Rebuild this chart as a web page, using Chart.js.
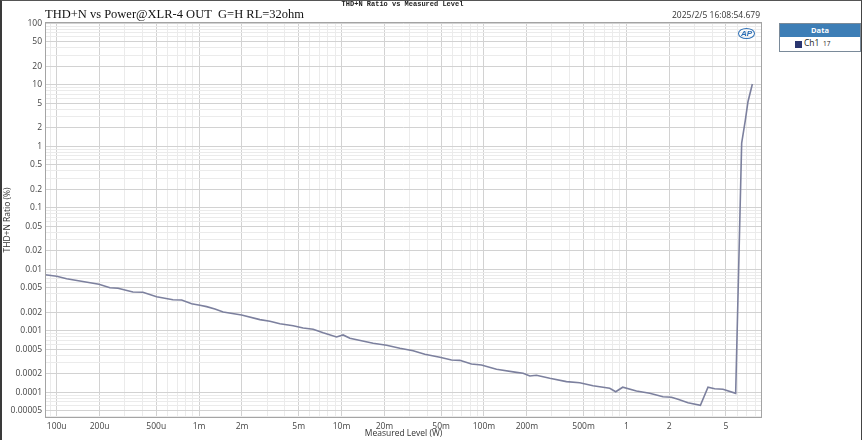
<!DOCTYPE html>
<html>
<head>
<meta charset="utf-8">
<script src="https://cdn.jsdelivr.net/npm/chart.js@4.4.1/dist/chart.umd.min.js"></script>
<style>
    html, body { margin: 0; padding: 0; background: #fff; }
    #wrap { position: relative; width: 862px; height: 440px; overflow: hidden; font-family: "Open Sans", sans-serif; }
    #frame { position: absolute; left: 0; top: 0; width: 859px; height: 439px; border-left: 2px solid #3a3a3a; border-top: 1px solid #555; border-right: 1px solid #444; pointer-events: none; }
    #topTitle { position: absolute; left: 0; width: 805px; top: 0; text-align: center; font: bold 7px "Liberation Mono", monospace; color: #222; }
    #subTitle { position: absolute; left: 45px; top: 7px; font: 12.5px "Liberation Serif", serif; color: #111; }
    #stamp { position: absolute; right: 102px; top: 9px; font-size: 8.5px; color: #333; }
    #logo { position: absolute; left: 738px; top: 28px; font: italic bold 8px "Liberation Sans", sans-serif; color: #2d6fb5; border: 1.5px solid #2d6fb5; border-radius: 50%; padding: 0 2px; line-height: 9px; }
    #legend { position: absolute; left: 779px; top: 23px; width: 80px; height: 27px; border: 1px solid #7a8a99; background: #fff; }
    #legend .head { height: 13px; background: #3d7eb6; color: #fff; font-size: 7.5px; font-weight: bold; text-align: center; line-height: 13px; }
    #legend .row { position: relative; height: 14px; font-size: 8.5px; color: #222; }
    #legend .sw { position: absolute; left: 15px; top: 4px; width: 7px; height: 7px; background: #2b3670; }
    #legend .nm { position: absolute; left: 24px; top: 0px; }
    #legend .ix { position: absolute; left: 43px; top: 2px; font-size: 6.5px; }
</style>
</head>
<body>
<div id="wrap">
    <canvas id="chart" width="862" height="440"></canvas>
    <div id="topTitle">THD+N Ratio vs Measured Level</div>
    <div id="subTitle">THD+N vs Power@XLR-4 OUT&nbsp;&nbsp;G=H RL=32ohm</div>
    <div id="stamp">2025/2/5 16:08:54.679</div>
    <div id="logo">AP</div>
    <div id="legend">
        <div class="head">Data</div>
        <div class="row"><span class="sw"></span><span class="nm">Ch1</span><span class="ix">17</span></div>
    </div>
    <div id="frame"></div>
</div>
<script>
// Measured level (W)
const power = [
    0.0000828, 0.0001, 0.0001175, 0.0001981, 0.0002366, 0.0002693, 0.0003431, 0.0004033,
    0.000503, 0.000655, 0.000754, 0.000886, 0.001013, 0.001129, 0.001291, 0.001476,
    0.001987, 0.002672, 0.00314, 0.00369, 0.004575, 0.005376, 0.00632, 0.00743,
    0.00922, 0.01026, 0.01144, 0.01667, 0.0207, 0.02566, 0.0318, 0.0384,
    0.049, 0.05915, 0.06765, 0.0817, 0.096, 0.1224, 0.1691, 0.1882,
    0.2097, 0.2336, 0.2895, 0.3793, 0.47, 0.583, 0.7636, 0.841,
    0.942, 1.176, 1.457, 1.806, 2.07, 2.302, 2.706, 3.306,
    3.738, 4.165, 4.764, 5.848, 6.443, 6.841, 7.134, 7.66
];
// THD+N ratio (%)
const thdn = [
    0.00817, 0.00769, 0.00703, 0.0057, 0.00502, 0.00491, 0.00428, 0.00423,
    0.00358, 0.0032, 0.00317, 0.00276, 0.0026, 0.00247, 0.00226, 0.00202,
    0.00181, 0.00152, 0.00143, 0.0013, 0.00121, 0.00111, 0.00106, 0.000931,
    0.000793, 0.000855, 0.000755, 0.000626, 0.000581, 0.000519, 0.000475, 0.000415,
    0.000371, 0.000335, 0.000331, 0.000289, 0.000278, 0.000237, 0.000211, 0.000204,
    0.000184, 0.000189, 0.000169, 0.000149, 0.000143, 0.000128, 0.000116, 0.000102,
    0.000121, 0.000105, 0.0000963, 0.0000848, 0.0000829, 0.0000769, 0.0000678, 0.0000615,
    0.000121, 0.000114, 0.000112, 0.0000963, 1.13, 2.68, 5.31, 10.3
];

const xTickValues = [0.0001, 0.0002, 0.0005, 0.001, 0.002, 0.005, 0.01, 0.02, 0.05, 0.1, 0.2, 0.5, 1, 2, 5];
const xTickLabels = ['100u', '200u', '500u', '1m', '2m', '5m', '10m', '20m', '50m', '100m', '200m', '500m', '1', '2', '5'];
const yTickValues = [0.00005, 0.0001, 0.0002, 0.0005, 0.001, 0.002, 0.005, 0.01, 0.02, 0.05, 0.1, 0.2, 0.5, 1, 2, 5, 10, 20, 50, 100];
const yTickLabels = ['0.00005', '0.0001', '0.0002', '0.0005', '0.001', '0.002', '0.005', '0.01', '0.02', '0.05', '0.1', '0.2', '0.5', '1', '2', '5', '10', '20', '50', '100'];

const xMin = 0.0000828, xMax = 8.95;
const yMin = 0.0000382, yMax = 105;

// all 1..9 steps of each decade inside the range
function logSteps(min, max) {
    const out = [];
    for (let e = Math.floor(Math.log10(min)); e <= Math.ceil(Math.log10(max)); e++) {
        for (let m = 1; m <= 9; m++) {
            const v = parseFloat((m * Math.pow(10, e)).toPrecision(3));
            if (v >= min * 1.0001 && v <= max * 0.9999) out.push(v);
        }
    }
    return out;
}

function labelFor(values, labels, v) {
    const i = values.findIndex(t => Math.abs(t - v) / t < 1e-6);
    return i >= 0 ? labels[i] : '';
}

function isMajor(v) {
    const m = Math.round(v / Math.pow(10, Math.floor(Math.log10(v) + 1e-9)));
    return m === 1 || m === 2 || m === 5;
}

const tickFont = { family: '"Open Sans", sans-serif', size: 8.5 };
const titleFont = { family: '"Open Sans", sans-serif', size: 8.5 };

const frameBox = {
    id: 'frameBox',
    afterDraw(chart) {
        const a = chart.chartArea, ctx = chart.ctx;
        ctx.save();
        ctx.strokeStyle = '#a4a4a4';
        ctx.lineWidth = 1;
        ctx.strokeRect(a.left + 0.5, a.top + 0.5, a.right - a.left - 1, a.bottom - a.top - 1);
        ctx.restore();
    }
};

new Chart(document.getElementById('chart'), {
    type: 'line',
    data: {
        datasets: [{
            label: 'Ch1',
            data: power.map((p, i) => ({ x: p, y: thdn[i] })),
            borderColor: '#7c809e',
            borderWidth: 1.6,
            pointRadius: 0,
            tension: 0,
            fill: false
        }]
    },
    options: {
        responsive: false,
        animation: false,
        layout: { padding: { top: 22, right: 100, left: 0, bottom: 0 } },
        plugins: { legend: { display: false }, tooltip: { enabled: false } },
        scales: {
            x: {
                type: 'logarithmic',
                min: xMin,
                max: xMax,
                afterBuildTicks: s => { s.ticks = logSteps(xMin, xMax).map(v => ({ value: v })); },
                afterFit: s => { s.height = 22; },
                ticks: {
                    autoSkip: false, maxRotation: 0, padding: 3,
                    color: '#444', font: tickFont,
                    callback: v => labelFor(xTickValues, xTickLabels, v)
                },
                grid: {
                    drawTicks: false,
                    color: c => (c.tick && isMajor(c.tick.value)) ? '#d2d2d2' : '#ebebeb'
                },
                border: { display: false },
                title: { display: true, text: 'Measured Level (W)', color: '#333', font: titleFont, padding: { top: 0, bottom: 1 } }
            },
            y: {
                type: 'logarithmic',
                min: yMin,
                max: yMax,
                afterBuildTicks: s => { s.ticks = logSteps(yMin, yMax).map(v => ({ value: v })); },
                afterFit: s => { s.width = 45; },
                ticks: {
                    autoSkip: false, padding: 3,
                    color: '#444', font: tickFont,
                    callback: v => labelFor(yTickValues, yTickLabels, v)
                },
                grid: {
                    drawTicks: false,
                    color: c => (c.tick && isMajor(c.tick.value)) ? '#d2d2d2' : '#ebebeb'
                },
                border: { display: false },
                title: { display: true, text: 'THD+N Ratio (%)', color: '#333', font: titleFont, padding: { top: 2, bottom: 0 } }
            }
        }
    },
    plugins: [frameBox]
});
</script>
</body>
</html>
